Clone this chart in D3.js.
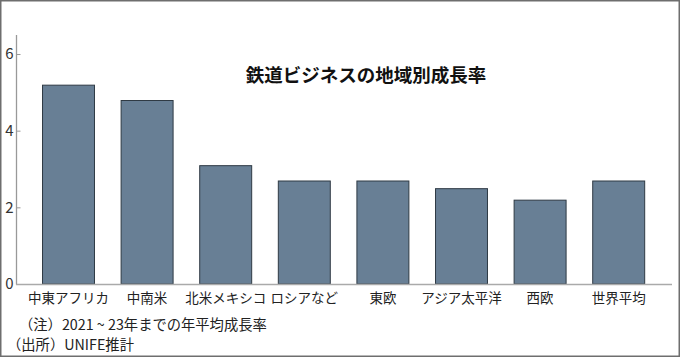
<!DOCTYPE html>
<html><head><meta charset="utf-8">
<script src="https://cdn.jsdelivr.net/npm/d3@7"></script>
<style>
html,body{margin:0;padding:0;background:#fff;}
svg{display:block;font-family:"Noto Sans CJK JP","Noto Sans",sans-serif;}
</style></head>
<body>
<svg id="chart" width="680" height="357"></svg>
<script>
const categories = ["中東アフリカ","中南米","北米メキシコ","ロシアなど","東欧","アジア太平洋","西欧","世界平均"];
const values = [5.2, 4.8, 3.1, 2.7, 2.7, 2.5, 2.2, 2.7];
const yTicks = [0, 2, 4, 6];
const title = "鉄道ビジネスの地域別成長率";
const notes = ["（注）2021 ~ 23年までの年平均成長率", "（出所）UNIFE推計"];

const svg = d3.select("#chart");
const W = 680, H = 357;

// outer frame
svg.append("rect").attr("x",0.75).attr("y",0.75).attr("width",W-1.5).attr("height",H-1.5)
  .attr("fill","#fff").attr("stroke","#6e6e6e").attr("stroke-width",1.5);

const x = d3.scaleBand().domain(categories).range([29.2, 658]).paddingInner(0.326).paddingOuter(0.163);
const y = d3.scaleLinear().domain([0, 6]).range([284, 54]);

// bars
svg.append("g").selectAll("rect").data(values).join("rect")
  .attr("x",(d,i)=>x(categories[i])+0.5)
  .attr("y",d=>y(d)+0.5)
  .attr("width",x.bandwidth()-1)
  .attr("height",d=>y(0)-y(d)-0.5)
  .attr("fill","#687f95")
  .attr("stroke","#2f3a44")
  .attr("stroke-width",1);

// y axis
const yAxis = svg.append("g").attr("transform","translate(16.5,0)")
  .call(d3.axisRight(y).tickValues(yTicks).tickSize(4).tickFormat(d3.format("d")));
yAxis.select(".domain").remove();
yAxis.selectAll(".tick line").attr("stroke","#999");
yAxis.selectAll(".tick text").attr("x",-3).attr("text-anchor","end")
  .attr("font-size",15).attr("fill","#333").attr("font-family","'Noto Sans CJK JP',sans-serif");
svg.append("line").attr("x1",16.5).attr("x2",16.5).attr("y1",35).attr("y2",284.5)
  .attr("stroke","#999").attr("stroke-width",1.3);

// x axis
const xAxis = svg.append("g").attr("transform","translate(0,284.5)")
  .call(d3.axisBottom(x).tickSize(0).tickPadding(9));
xAxis.select(".domain").remove();
xAxis.selectAll(".tick text").attr("font-size",13.5).attr("fill","#222")
  .attr("font-family","'Noto Sans CJK JP',sans-serif");
svg.append("line").attr("x1",16).attr("x2",672).attr("y1",284.5).attr("y2",284.5)
  .attr("stroke","#aaa").attr("stroke-width",1.5);

// title
svg.append("text").attr("x",366).attr("y",74).attr("text-anchor","middle")
  .attr("dominant-baseline","central").attr("font-size",18.5).attr("font-weight","bold")
  .attr("fill","#111").text(title);

// notes
svg.append("text").attr("x",19).attr("y",323).attr("dominant-baseline","central")
  .attr("font-size",14.3).attr("fill","#222").text(notes[0]);
svg.append("text").attr("x",7).attr("y",343).attr("dominant-baseline","central")
  .attr("font-size",14.3).attr("fill","#222").text(notes[1]);
</script>
</body></html>
